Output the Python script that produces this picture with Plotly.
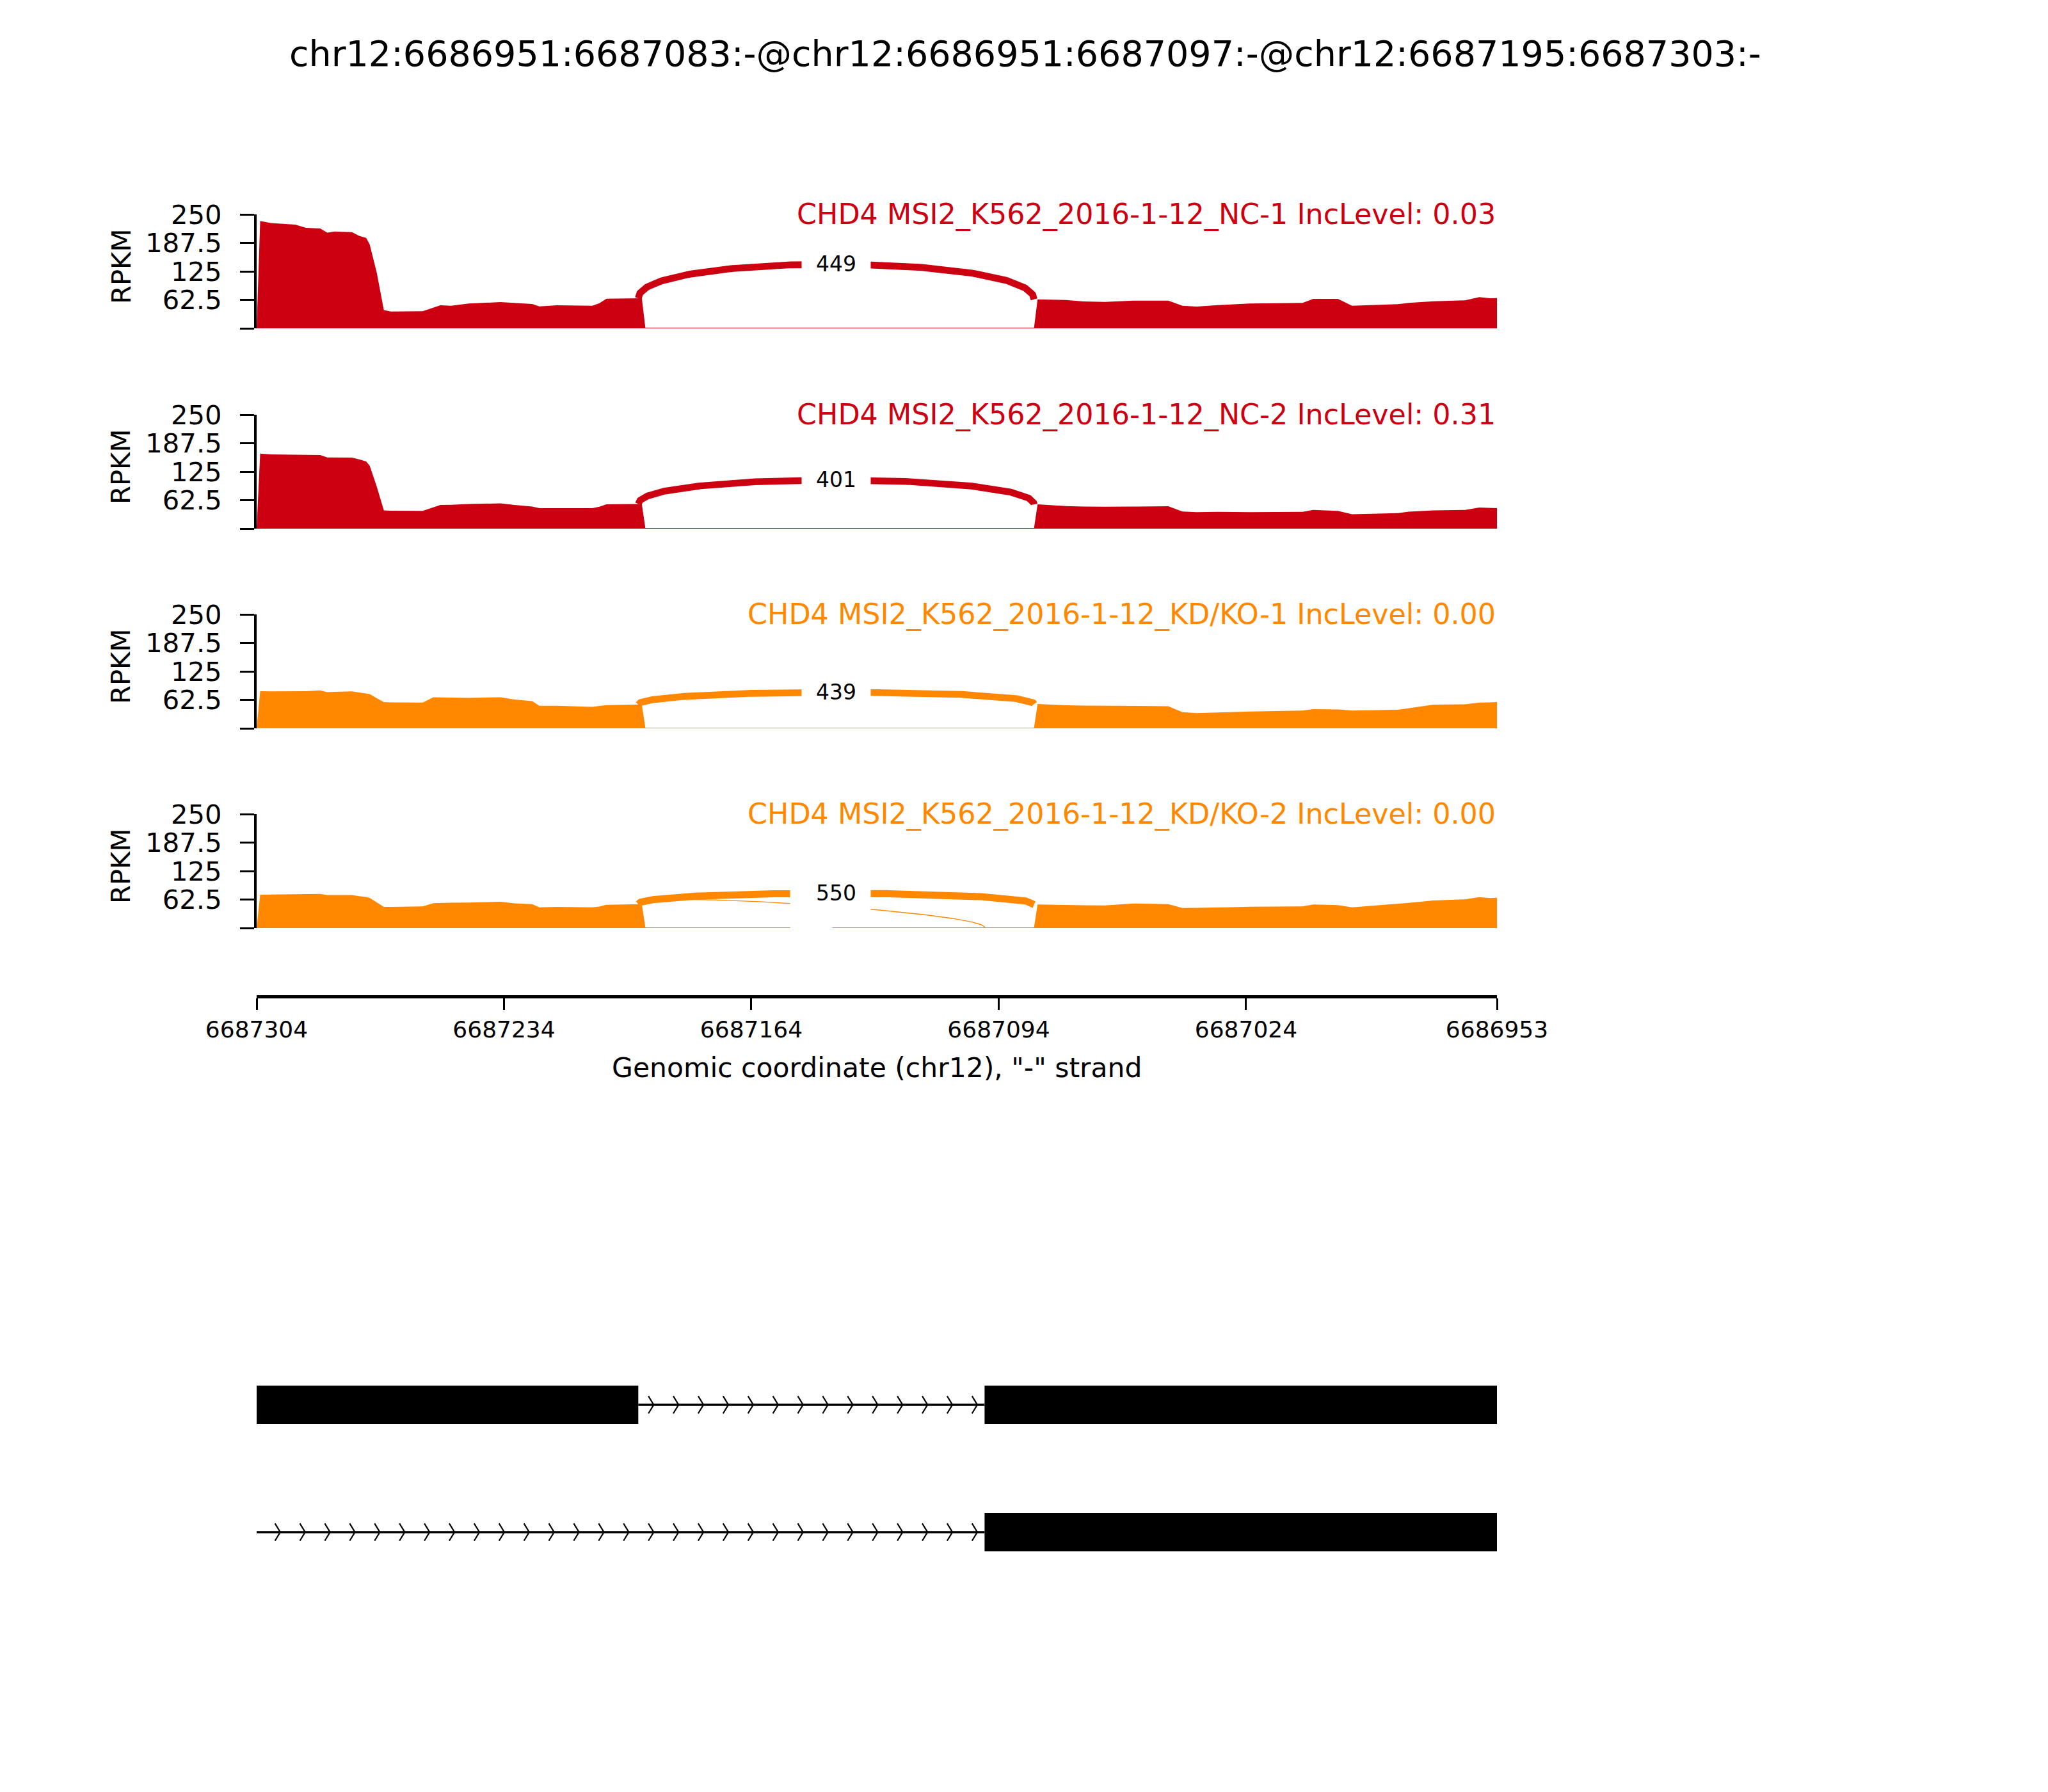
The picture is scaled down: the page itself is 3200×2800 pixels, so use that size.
import numpy as np
import plotly.graph_objects as go

W, H = 3200, 2800
FONT = "DejaVu Sans"

TITLE = "chr12:6686951:6687083:-@chr12:6686951:6687097:-@chr12:6687195:6687303:-"
SAMPLE_LABELS = [
    "CHD4 MSI2_K562_2016-1-12_NC-1 IncLevel: 0.03",
    "CHD4 MSI2_K562_2016-1-12_NC-2 IncLevel: 0.31",
    "CHD4 MSI2_K562_2016-1-12_KD/KO-1 IncLevel: 0.00",
    "CHD4 MSI2_K562_2016-1-12_KD/KO-2 IncLevel: 0.00",
]
SAMPLE_COLORS = ["#CC0011", "#CC0011", "#FF8800", "#FF8800"]

X_LEFT, X_RIGHT = 6687304, 6686953
XTICKS = [6687304, 6687234, 6687164, 6687094, 6687024, 6686953]
YTICKS = [0, 62.5, 125, 187.5, 250]
YTICKTEXT = ["", "62.5", "125", "187.5", "250"]
YMAX = 250
XLABEL = 'Genomic coordinate (chr12), "-" strand'
YLABEL = "RPKM"

# coverage breakpoints (genomic position) shared by all samples
POSITIONS = [6687304, 6687303, 6687300, 6687296, 6687293, 6687292, 6687290, 6687286, 6687284, 6687282,
             6687277, 6687275, 6687273, 6687272, 6687270, 6687268, 6687266, 6687257, 6687254, 6687252,
             6687249, 6687244, 6687235, 6687231, 6687226, 6687224, 6687219, 6687209, 6687207, 6687205,
             6687197, 6687195, 6687194, 6687084, 6687083, 6687075, 6687070, 6687064, 6687056, 6687046,
             6687042, 6687038, 6687032, 6687028, 6687023, 6687008, 6687005, 6686998, 6686994, 6686981,
             6686978, 6686971, 6686962, 6686958, 6686955, 6686953]
COV_NC1 = [0, 235.5, 231, 228.5, 227.5, 225, 220.5, 219, 210, 212.5,
           211, 203, 198.5, 184, 122, 40, 37, 37.5, 46, 50.6,
           49.6, 54.3, 57.6, 55.7, 53.4, 48.2, 50.6, 49.6, 55.2, 65,
           66, 66, 1.5, 1.5, 63.7, 62.3, 59, 58, 60.8, 60.8,
           49.6, 47.8, 51, 52.9, 54.3, 55.7, 64.6, 64.6, 49.6, 52.9,
           55.7, 59.4, 61.4, 68.4, 66, 66.4]
COV_NC2 = [0, 164.8, 163, 162.5, 162.9, 162.9, 162.5, 161.4, 156.3, 156,
           155.8, 152.1, 147.3, 138, 92, 40, 39.5, 39.1, 47, 51.8,
           52.3, 54.1, 55.5, 51.8, 48.4, 44.8, 44.8, 44.8, 48, 53.2,
           54, 54.1, 1.5, 1.5, 53.2, 49.4, 48.5, 48, 48.5, 49,
           37.7, 36, 37, 36.8, 36.3, 37, 41, 39.1, 31.5, 33.9,
           37.2, 40, 41, 46.2, 45, 44.8]
COV_KD1 = [0, 81.3, 81.2, 81.1, 81, 81, 81.5, 83.1, 79.4, 80,
           81, 78.5, 77, 75.2, 66, 57.5, 57, 56.5, 68.2, 68,
           67.8, 66.8, 68.2, 63.3, 59.8, 49.5, 49.5, 47, 49, 50.9,
           51.9, 51.9, 1.5, 1.5, 53.2, 50.4, 50, 49.5, 49, 48.6,
           35.5, 33.2, 34.6, 35.5, 36.9, 39, 42, 41.6, 38.8, 40.6,
           43.9, 51.9, 52.8, 56.5, 57, 57.5]
COV_KD2 = [0, 73, 73.3, 73.8, 74.2, 74.2, 74.5, 74.9, 72.2, 72.2,
           72.2, 69.8, 68, 66, 56, 46.3, 46.5, 47.3, 54.4, 55,
           55.4, 55.8, 57.5, 53.9, 52.4, 45.4, 46.3, 45.4, 47, 51,
           52.4, 52.4, 1.5, 1.5, 51.5, 50.1, 49.8, 49.4, 53.8, 52.4,
           44, 44.2, 44.7, 45.5, 46.8, 47.3, 51.5, 50.1, 45.4, 52.4,
           55, 60.3, 62.8, 67.8, 65.5, 66.4]
COVERAGE = [COV_NC1, COV_NC2, COV_KD1, COV_KD2]

# junctions: (donor exon boundary, acceptor exon boundary) and read counts per sample
JUNC_MAIN = (6687195, 6687083)
JUNC_MAIN_COUNTS = [449, 401, 439, 550]
JUNC_MINOR = (6687195, 6687097)
JUNC_MINOR_COUNTS = [0, 0, 0, 1]

# transcript models
TX_SPANS = [(6686951, 6687303), (6686951, 6687303)]
TX_EXONS = [[(6687195, 6687303), (6686951, 6687097), (6686951, 6687083)],
            [(6686951, 6687097), (6686951, 6687083)]]

# ---------------- layout geometry (pixels) ----------------
def py(px):
    return 1 - px / H

PANEL_TOPS = [327, 640, 952, 1264]
PANEL_H = 178
XDOM = [393 / W, 2331 / W]
AXIS_Y = 1549
ARC_FRAC = 0.43

fig = go.Figure()
annotations = []
shapes = []

pos = np.array(POSITIONS, dtype=float)
order = np.argsort(pos)


def density(cov, g):
    return float(np.interp(g, pos[order], np.array(cov, dtype=float)[order]))


def bezier(p, t):
    t = t[:, None]
    p = np.array(p, dtype=float)
    return ((1 - t) ** 3) * p[0] + 3 * ((1 - t) ** 2) * t * p[1] + 3 * (1 - t) * (t ** 2) * p[2] + (t ** 3) * p[3]


tt = np.linspace(0, 1, 240)

for i, cov in enumerate(COVERAGE):
    k = i + 1
    xa, ya = f"x{k}", f"y{k}"
    color = SAMPLE_COLORS[i]
    fig.add_trace(go.Scatter(x=POSITIONS, y=cov, mode="lines", fill="tozeroy",
                             line=dict(width=0, color=color), fillcolor=color,
                             xaxis=xa, yaxis=ya, showlegend=False, hoverinfo="skip"))
    h = ARC_FRAC * max(cov)
    juncs = [(JUNC_MINOR, JUNC_MINOR_COUNTS[i]), (JUNC_MAIN, JUNC_MAIN_COUNTS[i])]
    for (ss1, ss2), cnt in juncs:
        if cnt <= 0:
            continue
        ld, rd = density(cov, ss1), density(cov, ss2)
        x1, x2 = ss1 + 1, ss2 + 1
        pts = [(x1, ld), (x1, ld + h), (x2, rd + h), (x2, rd)]
        curve = bezier(pts, tt)
        lw = np.log(cnt + 1) / 3.17 * 400 / 72
        fig.add_trace(go.Scatter(x=curve[:, 0], y=curve[:, 1], mode="lines",
                                 line=dict(color=color, width=max(lw, 1.4)),
                                 xaxis=xa, yaxis=ya, showlegend=False, hoverinfo="skip"))
        mid = bezier(pts, np.array([0.5]))[0]
        annotations.append(dict(x=mid[0], y=mid[1], xref=xa, yref=ya, text=str(cnt),
                                showarrow=False, bgcolor="white", borderpad=22,
                                font=dict(family=FONT, size=33, color="black"),
                                xanchor="center", yanchor="middle"))
    annotations.append(dict(x=X_RIGHT, y=YMAX, xref=xa, yref=ya, text=SAMPLE_LABELS[i],
                            showarrow=False, xanchor="right", yanchor="middle",
                            font=dict(family=FONT, size=44.4, color=color)))
    annotations.append(dict(x=181 / W, y=py(PANEL_TOPS[i] + 82), xref="paper", yref="paper",
                            text=YLABEL, showarrow=False, textangle=-90,
                            xanchor="center", yanchor="middle",
                            font=dict(family=FONT, size=41.7, color="black")))

# ---------------- gene models ----------------
TRACK_Y = [1, 0]
HALF = 0.151
CHEV_H = 0.068


def introns(span, exons):
    s, e = span
    merged = []
    for a, b in sorted(exons):
        if merged and a <= merged[-1][1] + 1:
            merged[-1][1] = max(merged[-1][1], b)
        else:
            merged.append([a, b])
    gaps, cur = [], s
    for a, b in merged:
        if a > cur:
            gaps.append((cur, a - 1))
        cur = max(cur, b + 1)
    if cur <= e:
        gaps.append((cur, e))
    return gaps


for ti, (span, exons) in enumerate(zip(TX_SPANS, TX_EXONS)):
    yc = TRACK_Y[ti]
    for g0, g1 in introns(span, exons):
        xr, xl = g0, min(g1 + 2, X_LEFT + 1)
        fig.add_trace(go.Scatter(x=[xl, xr], y=[yc, yc], mode="lines",
                                 line=dict(color="black", width=3.5),
                                 xaxis="x5", yaxis="y5", showlegend=False, hoverinfo="skip"))
        cx, cy = [], []
        c = xr + 2.8
        while c < xl - 2.0:
            cx += [c + 0.75, c - 0.75, c + 0.75, None]
            cy += [yc + CHEV_H, yc, yc - CHEV_H, None]
            c += 7.045
        fig.add_trace(go.Scatter(x=cx, y=cy, mode="lines", line=dict(color="black", width=2.2),
                                 xaxis="x5", yaxis="y5", showlegend=False, hoverinfo="skip"))
    for a, b in exons:
        x0 = max(min(b + 1, X_LEFT), X_RIGHT)
        x1 = max(min(a + 1, X_LEFT), X_RIGHT)
        shapes.append(dict(type="rect", xref="x5", yref="y5", x0=x1, x1=x0,
                           y0=yc - HALF, y1=yc + HALF, fillcolor="black",
                           line=dict(width=0), layer="above"))

# ---------------- titles ----------------
annotations.append(dict(x=1594 / W, y=py(75), xref="paper", yref="paper", text=TITLE,
                        showarrow=False, xanchor="center", yanchor="middle",
                        font=dict(family=FONT, size=55.5, color="black")))
annotations.append(dict(x=(XDOM[0] + XDOM[1]) / 2, y=py(1660), xref="paper", yref="paper",
                        text=XLABEL, showarrow=False, xanchor="center", yanchor="middle",
                        font=dict(family=FONT, size=42.5, color="black")))

layout = dict(width=W, height=H, margin=dict(l=0, r=0, t=0, b=0, autoexpand=False),
              paper_bgcolor="white", plot_bgcolor="rgba(0,0,0,0)",
              showlegend=False, annotations=annotations, shapes=shapes,
              font=dict(family=FONT, color="black"))

for i in range(4):
    k = i + 1
    top = PANEL_TOPS[i]
    xkey = "xaxis" if k == 1 else f"xaxis{k}"
    ykey = "yaxis" if k == 1 else f"yaxis{k}"
    xa = dict(domain=XDOM, range=[X_LEFT, X_RIGHT], anchor=f"y{k}", automargin=False,
              showgrid=False, zeroline=False, showticklabels=False, ticks="", showline=False)
    if k == 4:
        xa.update(anchor="free", position=py(AXIS_Y), showline=True, linewidth=5,
                  linecolor="black", ticks="outside", ticklen=18, tickwidth=2.5,
                  tickcolor="black", tickvals=XTICKS, ticktext=[str(v) for v in XTICKS],
                  showticklabels=True, tickfont=dict(family=FONT, size=36, color="black"),
                  ticklabelstandoff=0)
    layout[xkey] = xa
    layout[ykey] = dict(domain=[py(top + PANEL_H), py(top)], range=[0, YMAX], anchor=f"x{k}",
                        automargin=False,
                        showgrid=False, zeroline=False, showline=True, linewidth=4,
                        linecolor="black", ticks="outside", ticklen=22, tickwidth=2.5,
                        tickcolor="black", tickvals=YTICKS, ticktext=YTICKTEXT,
                        tickfont=dict(family=FONT, size=41.7, color="black"),
                        ticklabelstandoff=20)

layout["xaxis5"] = dict(domain=XDOM, range=[X_LEFT, X_RIGHT], anchor="y5", visible=False,
                        automargin=False)
layout["yaxis5"] = dict(domain=[py(2493), py(2093)], range=[-0.538, 1.472], anchor="x5",
                        visible=False, automargin=False)

fig.update_layout(**layout)
fig.write_html("out.html")
